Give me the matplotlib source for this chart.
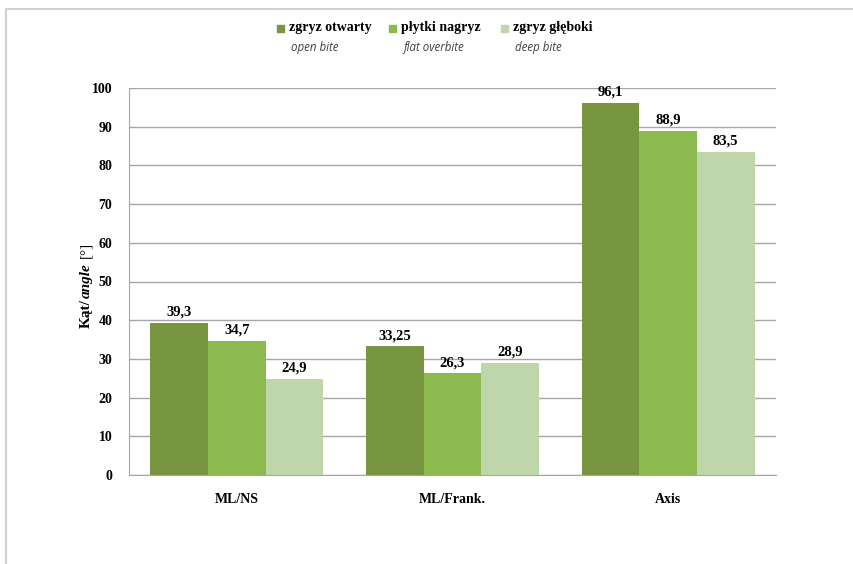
import matplotlib
matplotlib.use("Agg")
import matplotlib.pyplot as plt
import numpy as np
from matplotlib.patches import Rectangle
from matplotlib.lines import Line2D

# data
categories = ["ML/NS", "ML/Frank.", "Axis"]
series_pl = ["zgryz otwarty", "płytki nagryz", "zgryz głęboki"]
series_en = ["open bite", "flat overbite", "deep bite"]
open_bite = [39.3, 33.25, 96.1]
flat_overbite = [34.7, 26.3, 88.9]
deep_bite = [24.9, 28.9, 83.5]
open_labels = ["39,3", "33,25", "96,1"]
flat_labels = ["34,7", "26,3", "88,9"]
deep_labels = ["24,9", "28,9", "83,5"]
yticks = [0, 10, 20, 30, 40, 50, 60, 70, 80, 90, 100]

colors = ["#77963f", "#8dba4e", "#bfd6aa"]
serif = "Liberation Serif"

fig = plt.figure(figsize=(8.54, 5.64), dpi=100)
ax = fig.add_axes([129/854, 89/564, 647/854, 387/564])

x = np.arange(len(categories))
w = 0.267
vals = [open_bite, flat_overbite, deep_bite]
labs = [open_labels, flat_labels, deep_labels]
for i in range(3):
    bars = ax.bar(x + (i - 1) * w, vals[i], w, color=colors[i], zorder=3)
    ax.bar_label(bars, labels=labs[i], padding=3, fontsize=10.5,
                 fontweight="bold", family=serif)

ax.set_xlim(-0.5, 2.5)
ax.set_ylim(0, 100)
ax.set_yticks(yticks)
ax.set_xticks(x)
ax.set_xticklabels(categories)
ax.grid(axis="y", color="#a6a6a6", linewidth=1, zorder=0)
ax.tick_params(length=0)
ax.tick_params(axis="y", pad=12)
ax.tick_params(axis="x", pad=13)
for t in ax.get_xticklabels() + ax.get_yticklabels():
    t.set_family(serif)
    t.set_fontweight("bold")
    t.set_fontsize(10)
for s in ["top", "right"]:
    ax.spines[s].set_visible(False)
for s in ["left", "bottom"]:
    ax.spines[s].set_color("#a6a6a6")

# y label in three parts
fig.text(86/854, 1 - 314/564, "Kąt/", rotation=90, ha="center", va="center",
         family=serif, fontweight="bold", fontsize=11)
fig.text(86/854, 1 - 281/564, "angle", rotation=90, ha="center", va="center",
         family=serif, fontweight="bold", style="italic", fontsize=11)
fig.text(86/854, 1 - 250/564, "[°]", rotation=90, ha="center", va="center",
         family=serif, fontsize=11)

# legend
leg_x = [281, 393, 505]
for i in range(3):
    fig.patches.append(Rectangle(((leg_x[i] - 4)/854, 1 - 32/564), 7/854, 7/564,
                                 transform=fig.transFigure, color=colors[i]))
    fig.text((leg_x[i] + 8)/854, 1 - 28/564, series_pl[i], ha="left", va="center",
             family=serif, fontweight="bold", fontsize=10)
    fig.text((leg_x[i] + 10)/854, 1 - 47/564, series_en[i], ha="left", va="center",
             family="Open Sans", style="italic", fontsize=8.3, color="#404040")

# outer border
fig.lines.append(Line2D([6/854, 6/854, 1], [0, 1 - 9/564, 1 - 9/564],
                        transform=fig.transFigure, color="#d0d0d0", linewidth=1.5))

fig.savefig("out.png", dpi=100)
